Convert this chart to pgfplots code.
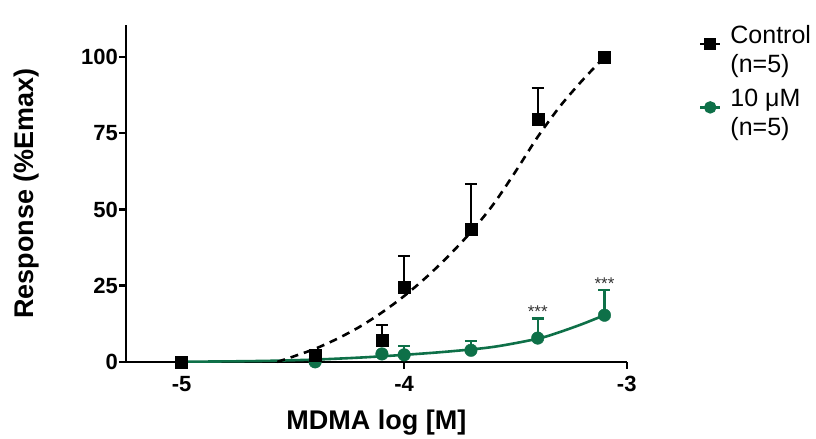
\documentclass[border=0pt]{standalone}
\usepackage{fontspec}
\setmainfont{Liberation Sans}
\usepackage{pgfplots}
\pgfplotsset{compat=1.18}
\definecolor{drugGreen}{RGB}{14,112,72}

\pgfplotstableread{
x y e
-4.4 0.0 0
-4.1 2.6 0
-4.0 2.3 2.9
-3.7 3.8 3.1
-3.4 7.8 6.4
-3.1 15.3 8.3
}\greendata

\pgfplotstableread{
x y e
-5.0 0.0 0
-4.4 2.3 0
-4.1 7.0 5.0
-4.0 24.5 10.3
-3.7 43.6 14.8
-3.4 79.7 10.1
-3.1 100.0 0
}\controldata

\begin{document}
\begin{tikzpicture}
\begin{axis}[
    scale only axis, width=501pt, height=337pt,
    xmin=-5.25, xmax=-3, ymin=0, ymax=110.5,
    axis lines=left, axis line style={-, line width=2.4pt},
    clip=false,
    xtick={-5,-4,-3}, xticklabels={{-5},{-4},{-3}},
    ytick={0,25,50,75,100}, yticklabels={0,25,50,75,100},
    tick align=outside, major tick length=7pt,
    tick style={line width=2.4pt, black},
    tick label style={font=\bfseries\fontsize{22}{22}\selectfont},
    xticklabel style={inner sep=1pt, yshift=-6pt},
    yticklabel style={inner sep=1pt},
    xlabel={MDMA log [M]}, ylabel={Response (\%Emax)},
    label style={font=\bfseries\fontsize{27}{27}\selectfont},
    xlabel style={at={(axis description cs:0.5,-0.2018)}, anchor=base},
    ylabel style={at={(axis description cs:-0.1856,0.5)}, anchor=base, rotate=0},
    legend style={at={(axis description cs:1.138,1.01)}, anchor=north west,
        draw=none, fill=none, font=\fontsize{25}{29}\selectfont,
        row sep=11pt, cells={align=left}},
    legend cell align=left,
    legend image code/.code={%
        \draw[mark repeat=2, mark phase=2, yshift=6pt, #1]
        plot coordinates {(0pt,0pt) (10pt,0pt) (20pt,0pt)};
        \path (27pt,6pt);},
]
% page frame taken from the reference proportions
\path (axis description cs:-0.2515,-0.2196) rectangle (axis description cs:1.3772,1.0742);
% fitted curves
\addplot[drugGreen, line width=2.6pt, smooth, forget plot] coordinates {
    (-5.0,0.05) (-4.8,0.15) (-4.6,0.35) (-4.4,0.75) (-4.2,1.4) (-4.0,2.3)
    (-3.8,3.4) (-3.6,4.9) (-3.4,7.6) (-3.3,9.8) (-3.2,12.4) (-3.1,15.3)
};
\addplot[black, line width=2.6pt, dash pattern=on 8pt off 6pt, smooth, forget plot] coordinates {
    (-4.57,0) (-4.5,1.7) (-4.4,4.3) (-4.3,7.6) (-4.2,11.5) (-4.1,16.2)
    (-4.0,21.6) (-3.9,27.8) (-3.8,34.8) (-3.7,42.6) (-3.6,51.6) (-3.5,62.4)
    (-3.4,73.8) (-3.3,83.8) (-3.2,92.3) (-3.1,100)
};
% data with one-sided SEM bars
\addplot[drugGreen, only marks, mark=*, mark size=6.3pt, forget plot,
    error bars/.cd, y dir=plus, y explicit,
    error bar style={line width=2.4pt, drugGreen},
    error mark options={rotate=90, mark size=6pt, line width=2.4pt, drugGreen}]
    table[x=x, y=y, y error=e] {\greendata};
\addplot[black, only marks, mark=square*, mark size=6pt, forget plot,
    error bars/.cd, y dir=plus, y explicit,
    error bar style={line width=2.4pt, black},
    error mark options={rotate=90, mark size=6pt, line width=2.4pt, black}]
    table[x=x, y=y, y error=e] {\controldata};
\addlegendimage{black, line width=2.4pt, mark=square*, mark size=5pt}
\addlegendentry{Control\\(n=5)}
\addlegendimage{drugGreen, line width=2.4pt, mark=*, mark size=5pt}
\addlegendentry{10 μM\\(n=5)}
% significance
\node[anchor=base, font=\fontsize{17}{17}\selectfont, text=black!80] at (axis cs:-3.4,14.6) {***};
\node[anchor=base, font=\fontsize{17}{17}\selectfont, text=black!80] at (axis cs:-3.1,23.8) {***};
\end{axis}
\end{tikzpicture}
\end{document}
